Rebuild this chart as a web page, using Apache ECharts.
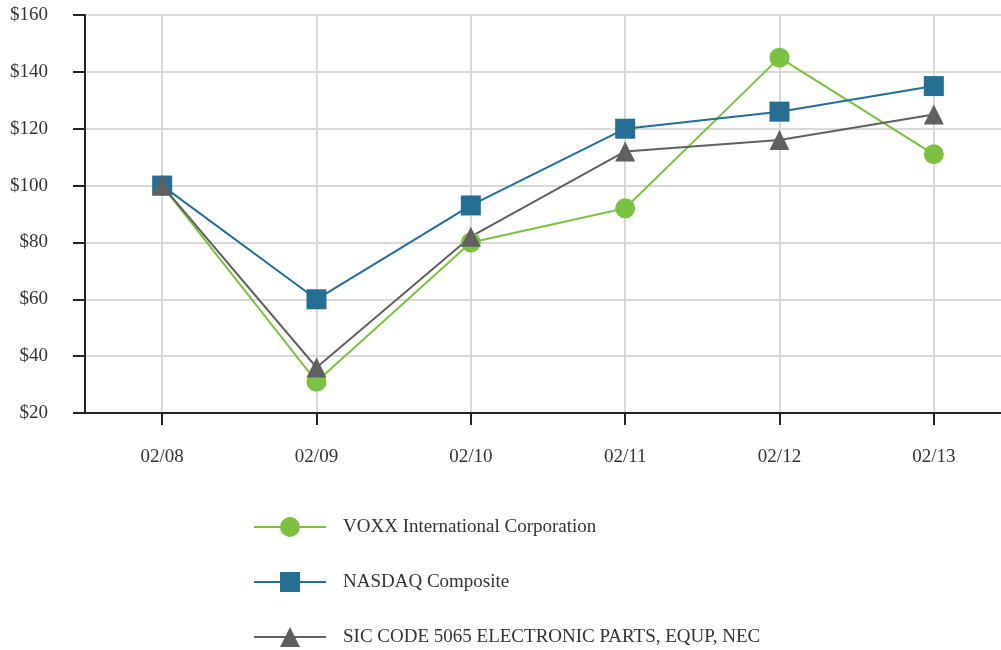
<!DOCTYPE html>
<html>
<head>
<meta charset="utf-8">
<script src="https://cdn.jsdelivr.net/npm/echarts@6/dist/echarts.min.js"></script>
<style>
    html, body { margin: 0; padding: 0; background: #fff; overflow: hidden; }
    #chart { width: 1011px; height: 650px; }
</style>
</head>
<body>
<div id="chart"></div>
<script>
// data
const years = ['02/08', '02/09', '02/10', '02/11', '02/12', '02/13'];
const voxx = [100, 31, 80, 92, 145, 111];
const nasdaq = [100, 60, 93, 120, 126, 135];
const sic = [100, 36, 82, 112, 116, 125];
const seriesNames = [
    'VOXX International Corporation',
    'NASDAQ Composite',
    'SIC CODE 5065 ELECTRONIC PARTS, EQUP, NEC'
];

const font = '"Liberation Serif", "Times New Roman", serif';

const chart = echarts.init(document.getElementById('chart'));

function makeLine(name, data, color, symbol) {
    return {
        name: name,
        type: 'line',
        data: data,
        symbol: symbol,
        symbolSize: 20,
        color: color,
        lineStyle: { width: 2, color: color },
        itemStyle: { color: color },
        z: 3
    };
}

chart.setOption({
    animation: false,
    textStyle: { fontFamily: font },
    // chart div is a bit wider than the window so the last column runs off the edge
    grid: { left: 85, top: 15, bottom: 237, right: 0 },
    legend: {
        orient: 'vertical',
        left: 253,
        top: 517,
        padding: 0,
        itemWidth: 72,
        itemHeight: 25,
        itemGap: 35,
        textStyle: { fontFamily: font, fontSize: 19, color: '#333', padding: [0, 0, 0, 12] },
        data: seriesNames
    },
    xAxis: {
        type: 'category',
        data: years,
        boundaryGap: true,
        axisLine: { lineStyle: { color: '#222', width: 2 } },
        axisTick: { show: true, alignWithLabel: true, length: 12, lineStyle: { color: '#222', width: 2 } },
        axisLabel: { margin: 35, fontSize: 19, color: '#333', fontFamily: font },
        splitLine: { show: true, alignWithLabel: true, lineStyle: { color: '#d9d9d9', width: 2 } }
    },
    yAxis: {
        type: 'value',
        min: 20,
        max: 160,
        interval: 20,
        axisLine: { show: true, lineStyle: { color: '#222', width: 2 } },
        axisTick: { show: true, length: 12, lineStyle: { color: '#222', width: 2 } },
        axisLabel: { margin: 37, fontSize: 19, color: '#333', fontFamily: font, formatter: '${value}' },
        splitLine: { show: true, lineStyle: { color: '#d9d9d9', width: 2 } }
    },
    series: [
        makeLine(seriesNames[0], voxx, '#7dc142', 'circle'),
        makeLine(seriesNames[1], nasdaq, '#246f93', 'rect'),
        makeLine(seriesNames[2], sic, '#606060', 'triangle')
    ]
});
</script>
</body>
</html>
